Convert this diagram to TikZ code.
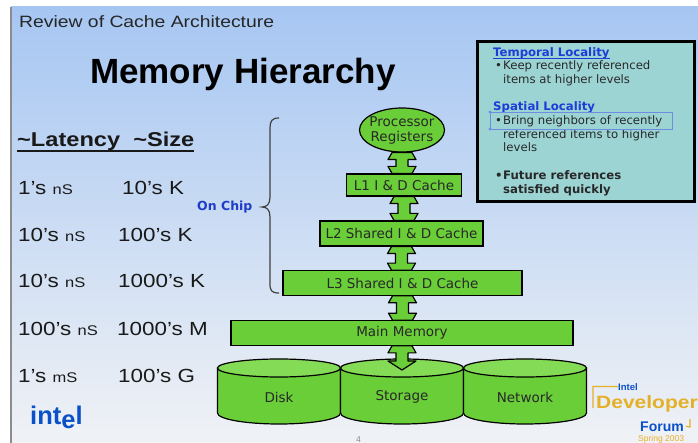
\documentclass[tikz,border=0pt]{standalone}
\usepackage{fontspec}
\setmainfont{Liberation Sans}
\newfontfamily\slidefont[FakeStretch=1.18]{Liberation Sans}
\newfontfamily\boxfont{DejaVu Sans}
\usetikzlibrary{calc,shapes.geometric}

\definecolor{skytop}{RGB}{166,198,242}
\definecolor{skymid}{RGB}{212,226,246}
\definecolor{skybot}{RGB}{240,242,245}
\definecolor{boxgreen}{RGB}{106,206,56}
\definecolor{cyltop}{RGB}{132,220,86}
\definecolor{boxtext}{RGB}{40,40,40}
\definecolor{notefill}{RGB}{156,212,212}
\definecolor{linkblue}{RGB}{30,60,215}
\definecolor{chipblue}{RGB}{30,60,200}
\definecolor{intelblue}{RGB}{10,80,200}
\definecolor{idfgold}{RGB}{228,176,40}
\definecolor{selblue}{RGB}{110,140,225}

% double-headed block arrow between two stacked levels
\newcommand\vlink[2]{%
  \draw[linkshape] let \p1=(#1.south), \p2=(#2.north) in
    (\x1-10pt,\y1) -- (\x1-14pt,\y1-7pt) -- (\x1-6pt,\y1-7pt) --
    (\x1-6pt,\y2+7pt) -- (\x1-14pt,\y2+7pt) -- (\x1-10pt,\y2) --
    (\x1+10pt,\y2) -- (\x1+14pt,\y2+7pt) -- (\x1+6pt,\y2+7pt) --
    (\x1+6pt,\y1-7pt) -- (\x1+14pt,\y1-7pt) -- (\x1+10pt,\y1) -- cycle;}

% storage drum centred at x = #1
\newcommand\drum[1]{%
  \filldraw[drumbody] (#1-61.5,368) -- (#1-61.5,413)
    arc[start angle=180, end angle=0, x radius=61.5, y radius=11]
    -- (#1+61.5,368) -- cycle;
  \filldraw[drumtop] (#1,368) ellipse[x radius=61.5, y radius=9];}

\begin{document}
\begin{tikzpicture}[x=1pt,y=-1pt,
  txt/.style={anchor=base west, inner sep=0pt},
  rowtxt/.style={txt, text=black!90, font={\slidefont\fontsize{19}{21}\selectfont}},
  gbox/.style={draw=black, line width=1.2pt, fill=boxgreen, inner sep=0pt,
    text=boxtext, font={\boxfont\fontsize{13.5}{15}\selectfont}},
  gtext/.style={inner sep=0pt, text=boxtext, align=center,
    font={\boxfont\fontsize{13.5}{15}\selectfont}},
  linkshape/.style={draw=black, line width=1.2pt, fill=boxgreen, line join=round},
  drumbody/.style={draw=black, line width=1.2pt, fill=boxgreen},
  drumtop/.style={draw=black, line width=1.2pt, fill=cyltop},
  notetxt/.style={txt, text=boxtext, font={\boxfont\fontsize{11.7}{13}\selectfont}},
  notehead/.style={txt, text=linkblue, font={\boxfont\bfseries\fontsize{11.7}{13}\selectfont}},
]
\useasboundingbox (0,0) rectangle (698,443);
\clip (0,0) rectangle (698,443);

% slide background
\fill[white] (0,0) rectangle (698,443);
\shade[top color=skytop, middle color=skymid, bottom color=skybot] (11,7) rectangle (698,443);
\draw[line width=1.5pt, draw=black!45] (11,7) -- (11,443);

% headings
\node[txt, text=black!85, font={\slidefont\fontsize{16.4}{18}\selectfont}] (hdr) at (19,28) {Review of Cache Architecture};
\node[txt, text=black, font={\bfseries\fontsize{35}{38}\selectfont}] (title) at (90,84) {Memory Hierarchy};
\node[txt, text=black!90, font={\slidefont\bfseries\fontsize{20}{22}\selectfont}] (colhdr) at (17,147) {\textasciitilde Latency\ \ \textasciitilde Size};
\draw[line width=1.8pt, black!90] ([yshift=-4pt]colhdr.base west) -- ([yshift=-4pt]colhdr.base east);

% latency / size table
\newcommand\unit[1]{{\fontsize{14}{14}\selectfont #1}}
\node[rowtxt] (lat1) at (18,195) {1’s \unit{nS}};
\node[rowtxt] (siz1) at (122,195) {10’s K};
\node[rowtxt] (lat2) at (18,242) {10’s \unit{nS}};
\node[rowtxt] (siz2) at (118,242) {100’s K};
\node[rowtxt] (lat3) at (18,288) {10’s \unit{nS}};
\node[rowtxt] (siz3) at (118,288) {1000’s K};
\node[rowtxt] (lat4) at (18,335) {100’s \unit{nS}};
\node[rowtxt] (siz4) at (117,335) {1000’s M};
\node[rowtxt] (lat5) at (18,382) {1’s \unit{mS}};
\node[rowtxt] (siz5) at (118,382) {100’s G};

% on-chip brace
\node[txt, text=chipblue, font={\boxfont\bfseries\fontsize{12.5}{14}\selectfont}] (onchip) at (197,211) {On Chip};
\draw[line width=1.2pt, black!75] (279,118) .. controls (272,118) and (270,121) .. (270,128)
  -- (270,197) .. controls (270,204) and (267,207) .. (262,207)
  .. controls (267,207) and (270,210) .. (270,217)
  -- (270,284) .. controls (270,291) and (272,293) .. (279,293);

% hierarchy levels
\node[ellipse, draw=black, line width=1.2pt, fill=boxgreen, minimum width=85, minimum height=44, inner sep=0pt] (regs) at (402,130) {};
\node[gtext] (regstxt) at (regs.center) {Processor\\Registers};
\node[gbox, minimum width=115, minimum height=22] (l1) at (404,185) {L1 I \& D Cache};
\node[gbox, minimum width=163, minimum height=25] (l2) at (401.5,233.5) {L2 Shared I \& D Cache};
\node[gbox, minimum width=239, minimum height=24.5] (l3) at (402.5,283) {L3 Shared I \& D Cache};
\node[gbox, minimum width=342, minimum height=24.5] (mm) at (402,333) {Main Memory};

\vlink{regs}{l1}
\vlink{l1}{l2}
\vlink{l2}{l3}
\vlink{l3}{mm}

% backing store drums
\drum{279}
\drum{402}
\drum{525}
\node[gtext] (disk) at (279,397) {Disk};
\node[gtext] (storage) at (402,397) {Storage};
\node[gtext] (network) at (525,397) {Network};

\coordinate (stortip) at (402,370);
\draw[linkshape] let \p1=(mm.south), \p2=(stortip) in
  (\x1-10pt,\y1) -- (\x1-14pt,\y1-7pt) -- (\x1-6pt,\y1-7pt) --
  (\x1-6pt,\y2+9pt) -- (\x1-14pt,\y2+9pt) -- (\x2,\y2) --
  (\x1+14pt,\y2+9pt) -- (\x1+6pt,\y2+9pt) --
  (\x1+6pt,\y1-7pt) -- (\x1+14pt,\y1-7pt) -- (\x1+10pt,\y1) -- cycle;

% locality note
\node[draw=black, line width=2.6pt, fill=notefill, minimum width=217, minimum height=160, anchor=north west, inner sep=0pt] (note) at (476,40) {};
\node[notehead] (temporal) at (493,56.5) {Temporal Locality};
\draw[linkblue, line width=1.1pt] ([yshift=-2pt]temporal.base west) -- ([yshift=-2pt]temporal.base east);
\node[notetxt] (b1) at (495,70) {•};
\node[notetxt] (t1a) at (503,70) {Keep recently referenced};
\node[notetxt] (t1b) at (503,83.5) {items at higher levels};
\node[notehead] (spatial) at (493,110.5) {Spatial Locality};
\draw[linkblue, line width=1.1pt] ([yshift=-2pt]spatial.base west) -- ([yshift=-2pt]spatial.base east);
\node[notetxt] (b2) at (495,125) {•};
\node[notetxt] (t2a) at (503,125) {Bring neighbors of recently};
\node[notetxt] (t2b) at (503,138.5) {referenced items to higher};
\node[notetxt] (t2c) at (503,152) {levels};
\node[notetxt, font={\boxfont\bfseries\fontsize{11.7}{13}\selectfont}] (b3) at (495,180) {•};
\node[notetxt, font={\boxfont\bfseries\fontsize{11.7}{13}\selectfont}] (t3a) at (503,180) {Future references};
\node[notetxt, font={\boxfont\bfseries\fontsize{11.7}{13}\selectfont}] (t3b) at (503,193.5) {satisfied quickly};
\draw[selblue, line width=0.8pt] (490,112) rectangle (672,129);
\fill[selblue] (490,112) circle[radius=1.6] (490,129) circle[radius=1.6];

% logos and page number
\node[txt, text=intelblue, font={\bfseries\fontsize{25.5}{27}\selectfont}] (intel) at (30,424) {int\raisebox{-4pt}{e}l};
\node[txt, text=intelblue, font={\bfseries\fontsize{9.5}{10}\selectfont}] (idfintel) at (618,390) {Intel};
\node[txt, text=idfgold, font={\slidefont\bfseries\fontsize{17.8}{19}\selectfont}] (idfdev) at (596,408) {Developer};
\node[txt, text=intelblue, font={\bfseries\fontsize{14}{15}\selectfont}] (idfforum) at (640,431) {Forum};
\node[txt, text=idfgold, font={\fontsize{8.5}{9}\selectfont}] (idfspring) at (638,441.5) {Spring 2003};
\draw[idfgold, line width=1.2pt] (idfintel.west) -- (593,386.5) -- (593,408);
\draw[idfgold, line width=1.2pt] ([xshift=2pt]idfforum.east) -- (690,427) -- (690,419);
\node[txt, text=black!45, font={\fontsize{8.5}{9}\selectfont}] (pageno) at (356,442) {4};
\end{tikzpicture}
\end{document}
